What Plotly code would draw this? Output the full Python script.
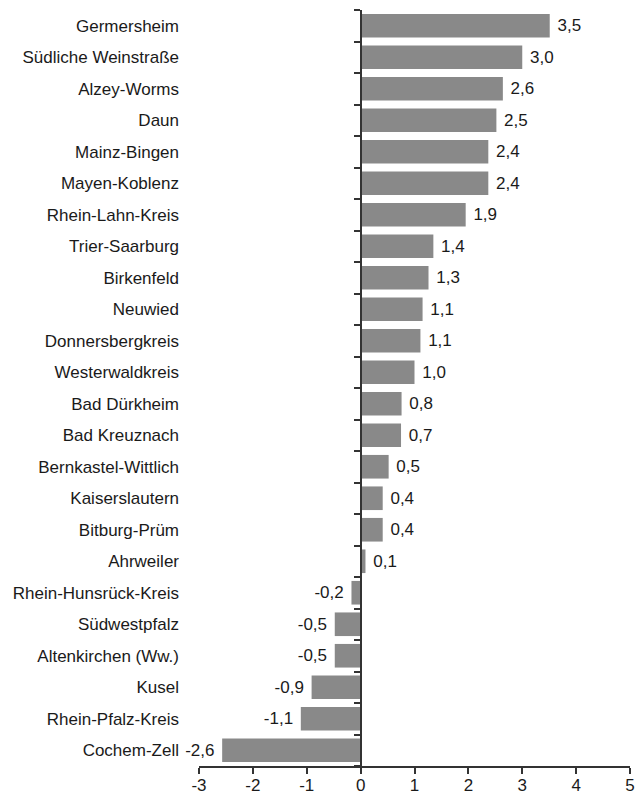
import plotly.graph_objects as go

districts = ["Germersheim", "Südliche Weinstraße", "Alzey-Worms", "Daun", "Mainz-Bingen",
             "Mayen-Koblenz", "Rhein-Lahn-Kreis", "Trier-Saarburg", "Birkenfeld", "Neuwied",
             "Donnersbergkreis", "Westerwaldkreis", "Bad Dürkheim", "Bad Kreuznach",
             "Bernkastel-Wittlich", "Kaiserslautern", "Bitburg-Prüm", "Ahrweiler",
             "Rhein-Hunsrück-Kreis", "Südwestpfalz", "Altenkirchen (Ww.)", "Kusel",
             "Rhein-Pfalz-Kreis", "Cochem-Zell"]
values = [3.51, 3.0, 2.64, 2.52, 2.37, 2.37, 1.95, 1.35, 1.26, 1.15, 1.11, 1.0, 0.76, 0.75,
          0.52, 0.41, 0.41, 0.09, -0.17, -0.48, -0.48, -0.91, -1.11, -2.57]
value_labels = ["3,5", "3,0", "2,6", "2,5", "2,4", "2,4", "1,9", "1,4", "1,3", "1,1", "1,1",
                "1,0", "0,8", "0,7", "0,5", "0,4", "0,4", "0,1", "-0,2", "-0,5", "-0,5",
                "-0,9", "-1,1", "-2,6"]
x_ticks = [-3, -2, -1, 0, 1, 2, 3, 4, 5]
x_tick_labels = ["-3", "-2", "-1", "0", "1", "2", "3", "4", "5"]

FONT = "Liberation Sans, Arial, sans-serif"
FS = 17
TXT = "#1a1a1a"
AX = "#333333"

n = len(districts)
idx = list(range(n))
texts = [(" " + t) if v >= 0 else (t + " ") for t, v in zip(value_labels, values)]
xr = [x_ticks[0], x_ticks[-1]]
yr = [n - 0.5, -0.5]

fig = go.Figure()
fig.add_trace(go.Bar(
    x=values, y=idx, orientation="h",
    marker=dict(color="#898989", line=dict(width=0)),
    text=texts, textposition="outside", constraintext="none",
    textfont=dict(family=FONT, size=FS, color=TXT),
    cliponaxis=False, hoverinfo="skip", showlegend=False,
))
fig.add_trace(go.Scatter(x=[0], y=[0], yaxis="y2", mode="markers",
                         marker=dict(opacity=0), hoverinfo="skip", showlegend=False))

zero_pos = (0 - xr[0]) / (xr[1] - xr[0])

# page body has an 8px margin, so the figure is drawn 8px smaller and margins compensate
fig.update_layout(
    width=635, height=788,
    margin=dict(l=191, r=13, t=2, b=30, autoexpand=False),
    paper_bgcolor="white", plot_bgcolor="white",
    bargap=0.25,
    font=dict(family=FONT, size=FS, color=TXT),
    xaxis=dict(range=xr, tickvals=x_ticks, ticktext=x_tick_labels, automargin=False,
               showgrid=False, zeroline=False, showline=True, linecolor=AX, linewidth=1.5,
               ticks="outside", ticklen=6, tickwidth=1.5, tickcolor=AX, ticklabelstandoff=-3,
               tickfont=dict(family=FONT, size=FS, color=TXT), fixedrange=True),
    yaxis=dict(range=yr, tickvals=idx, ticktext=districts, showgrid=False, zeroline=False,
               showline=False, ticks="", ticklabelstandoff=19, automargin=False,
               tickfont=dict(family=FONT, size=FS, color=TXT), fixedrange=True),
    yaxis2=dict(range=yr, overlaying="y", anchor="free", position=zero_pos, automargin=False,
                showgrid=False, zeroline=False, showline=True, linecolor=AX, linewidth=1.5,
                ticks="outside", ticklen=6, tickwidth=1.5, tickcolor=AX,
                tickvals=[i - 0.5 for i in range(n + 1)], showticklabels=False,
                fixedrange=True),
)

fig.write_html("out.html")
